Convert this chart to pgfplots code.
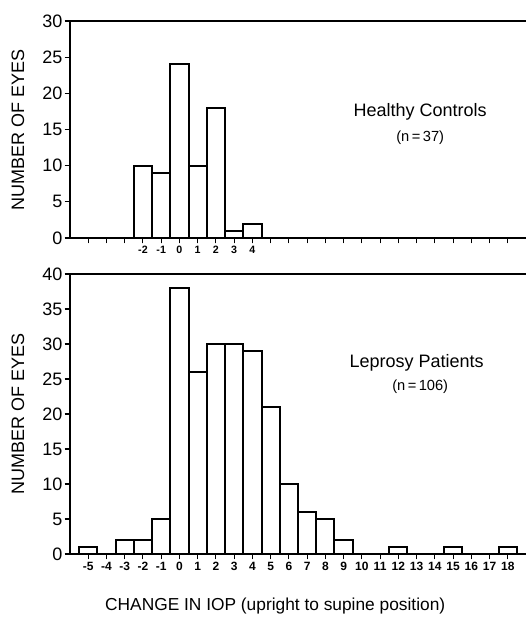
\documentclass[border=0pt]{standalone}
\usepackage{fontspec}
\setmainfont{Liberation Sans}
\usepackage{pgfplots}
\pgfplotsset{compat=1.18}
\begin{document}
\begin{tikzpicture}
\pgfplotsset{
 base/.style={
  scale only axis, width=342pt, xmin=-6, xmax=19, ymin=0,
  axis x line=box, axis y line=left, axis line style={-, line width=0.9pt},
  tick align=outside, xtick pos=bottom, ytick pos=left,
  major tick length=4pt, minor tick length=4pt,
  tick style={black, line width=0.8pt},
  yticklabel style={font=\fontsize{13.5}{15}\selectfont, inner sep=1.5pt},
  /pgf/number format/assume math mode=true,
  clip=false,
  ylabel={NUMBER OF EYES},
  ylabel style={at={(axis description cs:-0.114,0.5)}, anchor=center, rotate=0, font=\fontsize{13.5}{15}\selectfont},
 },
 bars/.style={ybar, bar width=1, fill=none, draw=black, line width=1.5pt},
}
% Bottom: leprosy patients
\begin{axis}[base, name=bot, at={(0,0)}, anchor=south west,
  height=210pt, ymax=40, ytick={0,5,...,40},
  xtick={-5,...,18},
  xticklabels={-5,-4,-3,-2,-1,0,1,2,3,4,5,6,7,8,9,10,11,12,13,14,15,16,17,18},
  xticklabel style={font=\fontsize{9}{10}\selectfont\bfseries, inner sep=2pt},
]
\addplot[bars] coordinates {
 (-5,1) (-3,2) (-2,2) (-1,5) (0,38) (1,26) (2,30) (3,30) (4,29) (5,21)
 (6,10) (7,6) (8,5) (9,2) (12,1) (15,1) (18,1)
};
\node[font=\fontsize{13.5}{16}\selectfont] at (axis cs:13.0,27.3) {Leprosy Patients};
\node[font=\fontsize{11}{13}\selectfont] at (axis cs:13.2,23.9) {(n\,=\,106)};
\node[font=\fontsize{13}{15}\selectfont] at (rel axis cs:0.45,0) [yshift=-39pt] {CHANGE IN IOP (upright to supine position)};
\end{axis}
% Top: healthy controls
\begin{axis}[base, at={(0,237pt)}, anchor=south west,
  height=162.75pt, ymax=30, ytick={0,5,...,30},
  xtick={-2,...,4},
  xticklabels={-2,-1,0,1,2,3,4},
  minor xtick={-5,...,18},
  xticklabel style={font=\fontsize{8}{9}\selectfont\bfseries, inner sep=2pt},
]
\addplot[bars] coordinates {
 (-2,10) (-1,9) (0,24) (1,10) (2,18) (3,1) (4,2)
};
\node[font=\fontsize{13.5}{16}\selectfont] at (axis cs:13.2,17.4) {Healthy Controls};
\node[font=\fontsize{11}{13}\selectfont] at (axis cs:13.2,13.8) {(n\,=\,37)};
\end{axis}
\pgfresetboundingbox
\path (-52.5pt,-52.5pt) rectangle (342pt,415.5pt);
\end{tikzpicture}
\end{document}
